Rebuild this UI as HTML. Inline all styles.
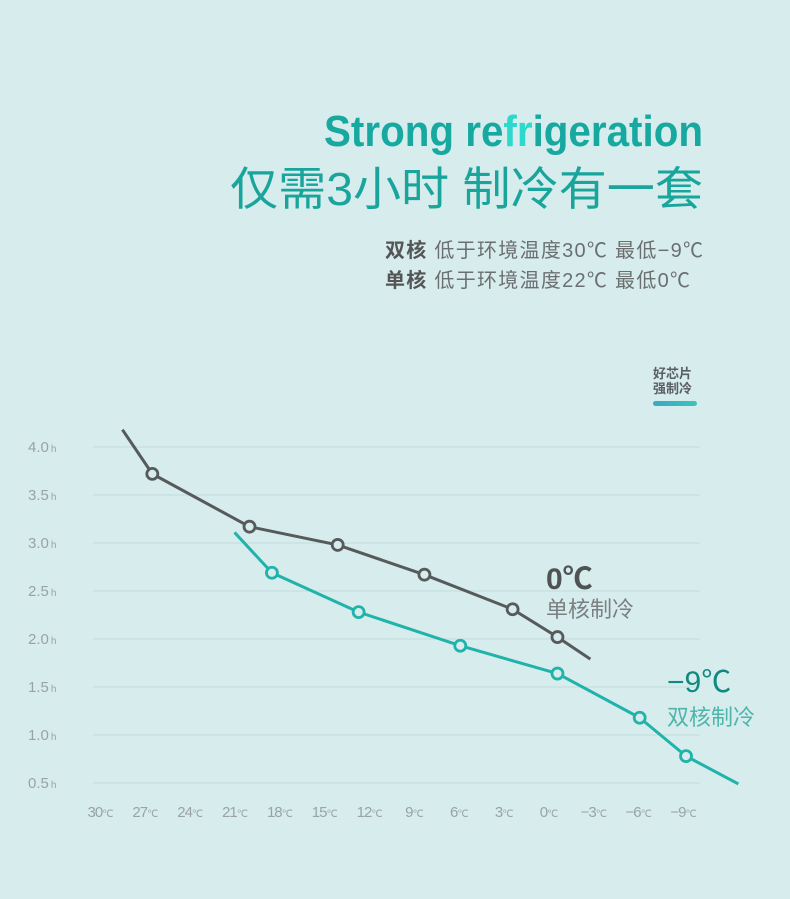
<!DOCTYPE html>
<html><head><meta charset="utf-8"><style>
html,body{margin:0;padding:0;background:#d7ecec;}
svg{display:block;}
</style></head><body>
<svg width="790" height="899" viewBox="0 0 790 899" xmlns="http://www.w3.org/2000/svg">
<rect width="790" height="899" fill="#d7ecec"/>
<text x="703" y="146" text-anchor="end" font-family="Liberation Sans, sans-serif" font-weight="bold" font-size="44" fill="#17a9a0" textLength="379" lengthAdjust="spacingAndGlyphs">Strong re<tspan fill="#2dd8cc">fr</tspan>igeration</text>
<text x="703" y="205" text-anchor="end" font-family="Liberation Sans, 'Noto Sans CJK SC', sans-serif" font-size="46" fill="#1aa59c" textLength="473" lengthAdjust="spacingAndGlyphs">仅需3小时 制冷有一套</text>
<g font-family="Liberation Sans, 'Noto Sans CJK SC', sans-serif" font-size="20" fill="#6b6f70">
<text x="385" y="257" textLength="318" lengthAdjust="spacing"><tspan font-weight="bold" fill="#555">双核</tspan> 低于环境温度30℃  最低−9℃</text>
<text x="385" y="287" textLength="305" lengthAdjust="spacing"><tspan font-weight="bold" fill="#555">单核</tspan> 低于环境温度22℃  最低0℃</text>
</g>
<g>
<text x="653" y="378" font-family="'Noto Sans CJK SC', sans-serif" font-weight="bold" font-size="13" fill="#5a6062">好芯片</text>
<text x="653" y="393" font-family="'Noto Sans CJK SC', sans-serif" font-weight="bold" font-size="13" fill="#5a6062">强制冷</text>
<defs><linearGradient id="lg" x1="0" x2="1"><stop offset="0" stop-color="#3aa8c8"/><stop offset="1" stop-color="#3cc4b8"/></linearGradient></defs>
<rect x="653" y="401" width="44" height="5" rx="2.5" fill="url(#lg)"/>
</g>
<g id="grid"></g><g id="yt"></g><g id="xt"></g><g id="series"></g>
<g font-family="Liberation Sans, 'Noto Sans CJK SC', sans-serif">
<text x="546" y="589" font-size="30" font-weight="bold" fill="#4f5354">0℃</text>
<text x="546" y="617" font-size="22" fill="#7a7f80">单核制冷</text>
<text x="667" y="692" font-size="30" fill="#0e8a80">−9℃</text>
<text x="667" y="725" font-size="22" fill="#4fb5ab">双核制冷</text>
</g>
</svg>
<script>
const yTicks=[4.0,3.5,3.0,2.5,2.0,1.5,1.0,0.5];
const xTicks=[30,27,24,21,18,15,12,9,6,3,0,-3,-6,-9];
const singleTemps=[28.5,26.5,20.0,14.1,8.3,2.4,-0.6,-2.8];
const singleHours=[4.18,3.72,3.17,2.98,2.67,2.31,2.02,1.79];
const singleMarked=[false,true,true,true,true,true,true,false];
const dualTemps=[21.0,18.5,12.7,5.9,-0.6,-6.1,-9.2,-12.7];
const dualHours=[3.11,2.69,2.28,1.93,1.64,1.18,0.78,0.49];
const dualMarked=[false,true,true,true,true,true,true,false];
const NS='http://www.w3.org/2000/svg';
function xs(t){return 100+(30-t)*14.95;}
function ys(v){return 447+(4-v)*96;}
function mk(tag,attrs,parent){const e=document.createElementNS(NS,tag);for(const k in attrs)e.setAttribute(k,attrs[k]);parent.appendChild(e);return e;}
const grid=document.getElementById('grid'),yt=document.getElementById('yt'),xt=document.getElementById('xt'),ser=document.getElementById('series');
yTicks.forEach(v=>{
  const l=mk('line',{x1:93,x2:700,y1:ys(v),y2:ys(v),stroke:'#c3dcdc','stroke-width':1},grid);
  
  
  const t=mk('text',{x:28,y:ys(v)+5,'font-family':'Liberation Sans, sans-serif','font-size':15,fill:'#9aa3a4'},yt);
  
  
  t.innerHTML=v.toFixed(1)+'<tspan font-size="10" dx="2">h</tspan>';
});
xTicks.forEach(v=>{
  const t=mk('text',{x:xs(v),y:817,'text-anchor':'middle','font-family':'Liberation Sans, sans-serif','font-size':15,fill:'#9aa3a4','letter-spacing':'-1'},xt);
  
  
  t.innerHTML=(v<0?'−'+(-v):v)+'<tspan font-size="10">℃</tspan>';
});
function drawSeries(temps,hours,marked,color,name){
  const pts=temps.map((t,i)=>xs(t)+','+ys(hours[i])).join(' ');
  const p=mk('polyline',{points:pts,fill:'none',stroke:color,'stroke-width':3,'stroke-linejoin':'round'},ser);
  
  
  temps.forEach((t,i)=>{if(!marked[i])return;
    const c=mk('circle',{cx:xs(t),cy:ys(hours[i]),r:5.5,fill:'#d7ecec',stroke:color,'stroke-width':2.8},ser);
    
    
  });
}
drawSeries(singleTemps,singleHours,singleMarked,'#575a5b','single-core');
drawSeries(dualTemps,dualHours,dualMarked,'#1fb3aa','dual-core');
</script>
</body></html>
